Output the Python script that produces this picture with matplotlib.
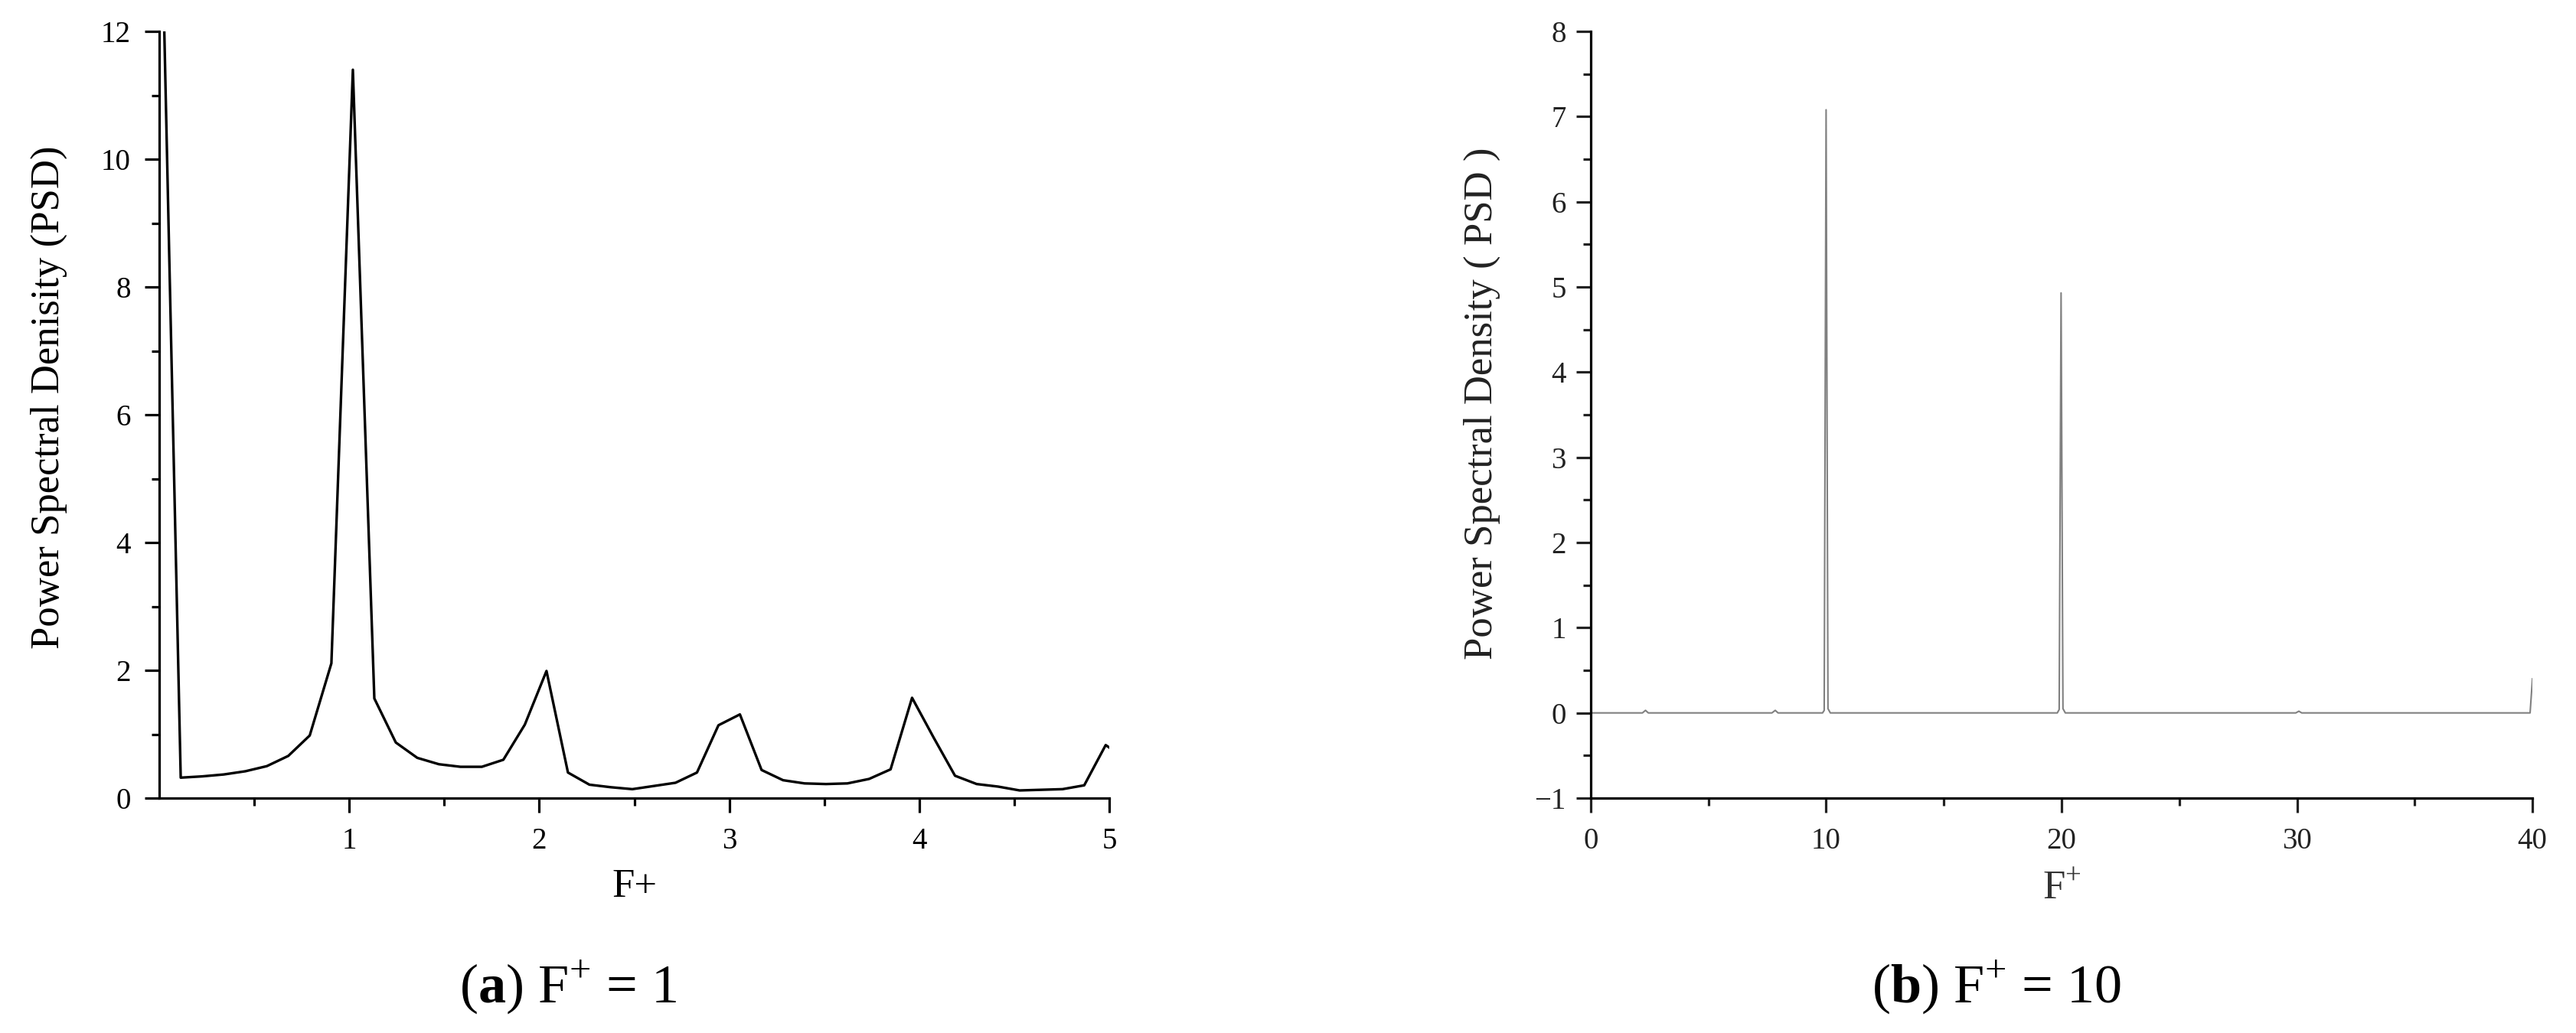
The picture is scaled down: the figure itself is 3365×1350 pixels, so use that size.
import matplotlib
matplotlib.use("Agg")
import matplotlib.pyplot as plt
from matplotlib.ticker import MultipleLocator, FixedLocator

plt.rcParams["font.family"] = ["Liberation Serif", "DejaVu Serif"]
plt.rcParams["mathtext.fontset"] = "custom"
plt.rcParams["mathtext.rm"] = "Liberation Serif"
plt.rcParams["mathtext.bf"] = "Liberation Serif:bold"

# (a) F+ = 1 : PSD samples
freq_a = [0.000, 0.113, 0.226, 0.340, 0.453, 0.566, 0.679, 0.792, 0.906, 1.019,
          1.132, 1.245, 1.358, 1.472, 1.585, 1.698, 1.811, 1.924, 2.038, 2.151,
          2.264, 2.377, 2.490, 2.604, 2.717, 2.830, 2.943, 3.056, 3.170, 3.283,
          3.396, 3.509, 3.622, 3.736, 3.849, 3.962, 4.075, 4.188, 4.302, 4.415,
          4.528, 4.641, 4.754, 4.868, 4.981, 5.094]
psd_a = [15.6, 0.32, 0.34, 0.37, 0.42, 0.50, 0.66, 0.98, 2.11, 11.4,
         1.56, 0.87, 0.63, 0.53, 0.49, 0.49, 0.60, 1.15, 1.99, 0.40,
         0.21, 0.17, 0.14, 0.19, 0.24, 0.40, 1.14, 1.31, 0.44, 0.28,
         0.23, 0.22, 0.23, 0.30, 0.45, 1.57, 0.95, 0.35, 0.22, 0.18,
         0.12, 0.13, 0.14, 0.20, 0.83, 0.60]

# (b) F+ = 10
freq_b = [0.0, 2.20, 2.33, 2.45, 7.70, 7.84, 7.96, 9.85, 9.92, 10.00, 10.08,
          10.18, 19.82, 19.90, 19.98, 20.06, 20.16, 29.95, 30.08, 30.20,
          39.90, 40.0]
psd_b = [0.0, 0.0, 0.03, 0.0, 0.0, 0.03, 0.0, 0.0, 0.03, 7.08, 0.05,
         0.0, 0.0, 0.04, 4.93, 0.05, 0.0, 0.0, 0.02, 0.0,
         0.0, 0.40]

fig = plt.figure(figsize=(33.66, 13.5), dpi=100)
ax1 = fig.add_axes([0.0618, 0.2274, 0.3687, 0.7422])
ax2 = fig.add_axes([0.6173, 0.2274, 0.3655, 0.7422])

ax1.plot(freq_a, psd_a, color="black", lw=2.4)
ax1.set_xlim(0, 5)
ax1.set_ylim(0, 12)
ax1.xaxis.set_major_locator(FixedLocator([1, 2, 3, 4, 5]))
ax1.xaxis.set_minor_locator(FixedLocator([0.5, 1.5, 2.5, 3.5, 4.5]))
ax1.yaxis.set_major_locator(MultipleLocator(2))
ax1.yaxis.set_minor_locator(MultipleLocator(1))
ax1.set_ylabel("Power Spectral Denisity (PSD)", fontsize=38)
ax1.set_xlabel("F+", fontsize=38)
ax1.yaxis.set_label_coords(-0.097, 0.523)
ax1.xaxis.set_label_coords(0.5, -0.092)

ax2.plot(freq_b, psd_b, color="#808080", lw=1.5)
ax2.set_xlim(0, 40)
ax2.set_ylim(-1, 8)
ax2.xaxis.set_major_locator(MultipleLocator(10))
ax2.xaxis.set_minor_locator(MultipleLocator(5))
ax2.yaxis.set_major_locator(MultipleLocator(1))
ax2.yaxis.set_minor_locator(MultipleLocator(0.5))
ax2.set_ylabel("Power Spectral Density ( PSD )", fontsize=38, color="#222222")
ax2.set_xlabel("F$^{+}$", fontsize=38, color="#333333")
ax2.yaxis.set_label_coords(-0.096, 0.515)
ax2.xaxis.set_label_coords(0.5, -0.095)

for ax in (ax1, ax2):
    for side in ("top", "right"):
        ax.spines[side].set_visible(False)
    for side in ("left", "bottom"):
        ax.spines[side].set_linewidth(2.3)
    ax.tick_params(which="major", direction="out", length=14, width=2.3,
                   labelsize=28, pad=13)
    ax.tick_params(which="minor", direction="out", length=7, width=2.3)
ax2.tick_params(axis="y", which="major", pad=9)
ax2.tick_params(which="both", colors="#222222")

fig.text(0.2204, 0.0444, r"($\mathbf{a}$) F$^{+}$ = 1", fontsize=52,
         ha="center", va="center")
fig.text(0.7748, 0.0444, r"($\mathbf{b}$) F$^{+}$ = 10", fontsize=52,
         ha="center", va="center")

fig.savefig("out.png", dpi=100)
